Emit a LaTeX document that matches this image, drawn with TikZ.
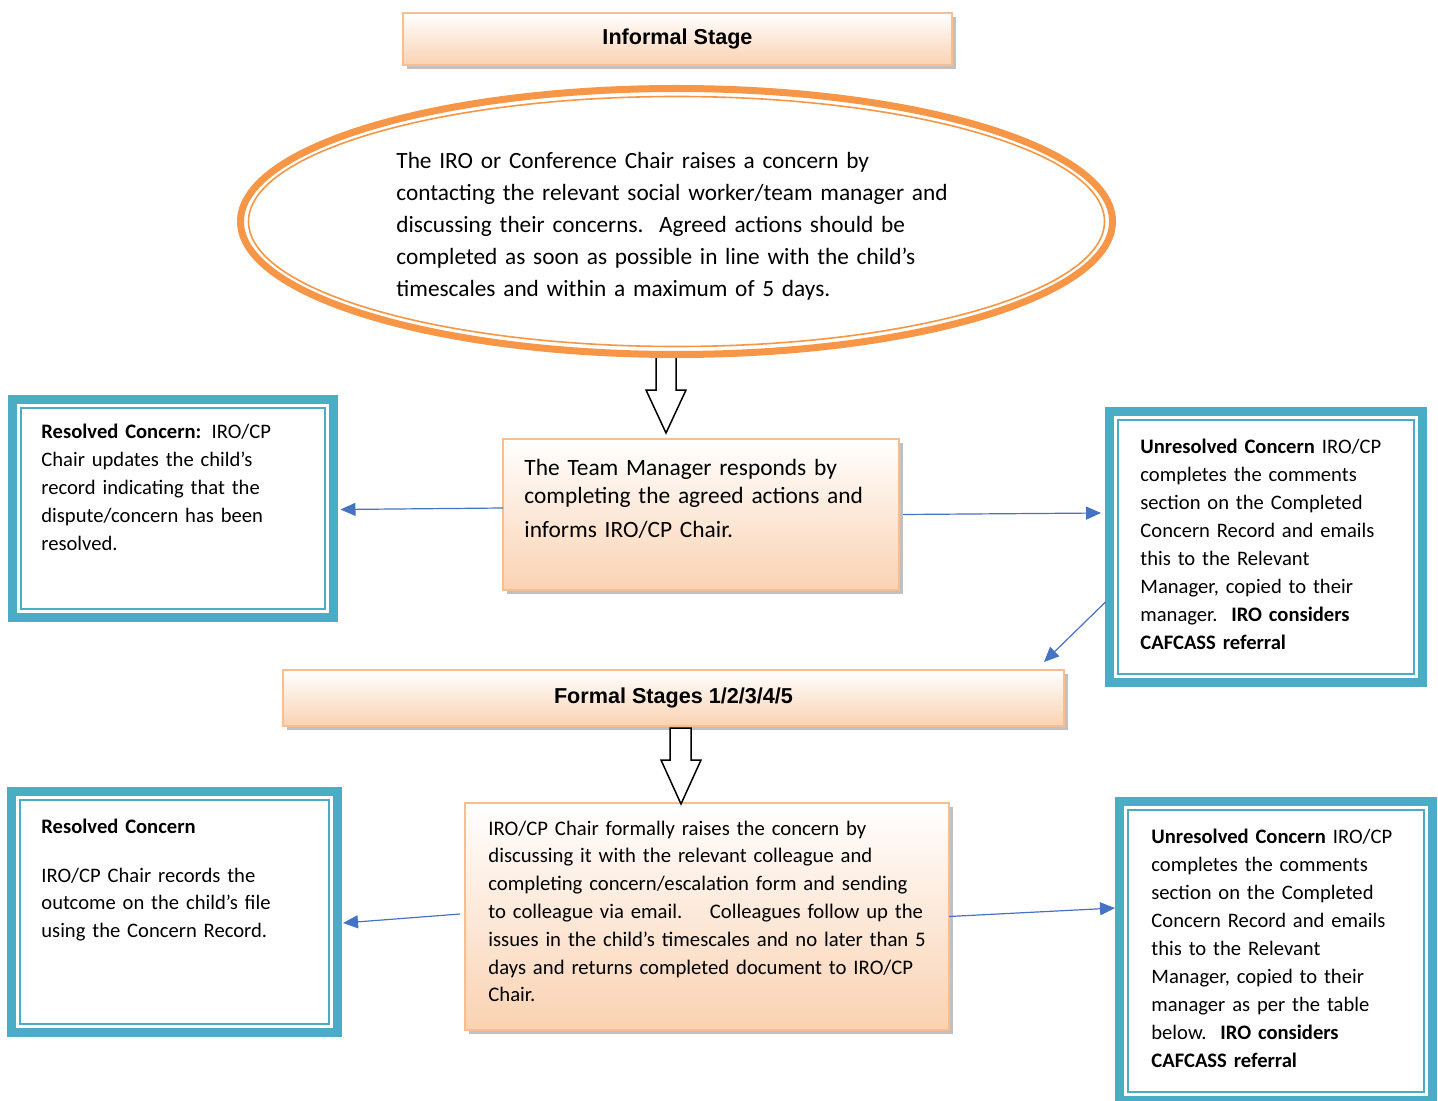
\documentclass[tikz,border=0pt]{standalone}
\usepackage{fontspec}
\setmainfont{Carlito}
\newfontfamily\headfont{Liberation Sans}
\usetikzlibrary{shadows,arrows.meta,calc,shapes.geometric}
\definecolor{orbord}{HTML}{F9BE8F}
\definecolor{peach}{HTML}{FAD2B2}
\definecolor{tealc}{HTML}{4BACC6}
\definecolor{bluec}{HTML}{4472C4}
\definecolor{ellc}{HTML}{F79646}
\begin{document}
\begin{tikzpicture}[x=0.5pt,y=-0.5pt,
  stagebox/.style={draw=orbord, line width=1pt, top color=white, bottom color=peach,
    drop shadow={shadow xshift=2pt,shadow yshift=-2pt,fill=black!45,opacity=0.55},
    inner sep=0pt, outer sep=0pt},
  tealbox/.style={draw=tealc, line width=4.5pt, fill=white, inner sep=0pt, outer sep=0pt},
  innerline/.style={draw=tealc, line width=1pt},
  conn/.style={draw=bluec, line width=0.6pt, -{Triangle[length=7.5pt,width=6.5pt]}},
  blockarrow/.style={draw=black, line width=0.75pt, fill=white, line join=miter},
  txt/.style={inner sep=0pt, align=left, text width=#1},
  headtxt/.style={font=\headfont\bfseries\fontsize{10.8}{13}\selectfont}]
\useasboundingbox (0,0) rectangle (1438,1101);

% block arrow 1 (behind ellipse)
\draw[blockarrow] (656,357) -- (676,357) -- (676,390) -- (686,390) -- (666,433) -- (646,390) -- (656,390) -- cycle;

% Informal stage
\node[stagebox, minimum width=274.5pt, minimum height=26pt, headtxt] (inf) at (677.5,39) {Informal Stage};

% Ellipse
\node[ellipse, draw=ellc, line width=3.5pt, fill=white, minimum width=436pt, minimum height=133pt, inner sep=0pt, outer sep=0pt] (ell) at (676.5,221.5) {};
\draw[draw=ellc, line width=0.8pt] (ell.center) ellipse [x radius=214pt, y radius=62.5pt];
\node[txt=320pt, anchor=base west, font=\fontsize{11.65}{16}\selectfont] (ellt) at (396,169)
 {The IRO or Conference Chair raises a concern by\\
  contacting the relevant social worker/team manager and\\
  discussing their concerns.\ \ Agreed actions should be\\
  completed as soon as possible in line with the child’s\\
  timescales and within a maximum of 5 days.};

% Team manager box
\node[stagebox, minimum width=198pt, minimum height=75.5pt] (tm) at (701,514.5) {};
\node[txt=190pt, anchor=base west, font=\fontsize{11.7}{14}\selectfont] (tmt) at (524,475)
 {The Team Manager responds by\\
  completing the agreed actions and\\[3pt]
  informs IRO/CP Chair.};

% Left resolved box 1
\node[tealbox, minimum width=160.5pt, minimum height=109pt] (lb1) at (173,508.5) {};
\draw[innerline] ($(lb1.north west)+(8.5,8.5)$) rectangle ($(lb1.south east)-(8.5,8.5)$);
\node[txt=150pt, anchor=base west, font=\fontsize{10.3}{14}\selectfont] (lb1t) at (41,438)
 {\textbf{Resolved Concern:} IRO/CP\\
  Chair updates the child’s\\
  record indicating that the\\
  dispute/concern has been\\
  resolved.};

% Right unresolved box 1
\node[tealbox, minimum width=156.5pt, minimum height=135.5pt] (rb1) at (1266,547) {};
\draw[innerline] ($(rb1.north west)+(8.5,8.5)$) rectangle ($(rb1.south east)-(8.5,8.5)$);
\node[txt=140pt, anchor=base west, font=\fontsize{10.3}{14}\selectfont] (rb1t) at (1140,453)
 {\textbf{Unresolved Concern} IRO/CP\\
  completes the comments\\
  section on the Completed\\
  Concern Record and emails\\
  this to the Relevant\\
  Manager, copied to their\\
  manager.\ \ \textbf{IRO considers}\\
  \textbf{CAFCASS referral}};

% Formal stages
\node[stagebox, minimum width=390.5pt, minimum height=28pt, headtxt] (fs) at (673.5,698) {Formal Stages 1/2/3/4/5};

% Formal process box
\node[stagebox, minimum width=242pt, minimum height=113.5pt] (fp) at (707,916.5) {};
\node[txt=235pt, anchor=base west, font=\fontsize{10.35}{13.9}\selectfont] (fpt) at (488,835)
 {IRO/CP Chair formally raises the concern by\\
  discussing it with the relevant colleague and\\
  completing concern/escalation form and sending\\
  to colleague via email.\ \ \ \ Colleagues follow up the\\
  issues in the child’s timescales and no later than 5\\
  days and returns completed document to IRO/CP\\
  Chair.};

% block arrow 2
\draw[blockarrow] (670,728) -- (691,728) -- (691,760) -- (701,760) -- (681,804) -- (661,760) -- (670,760) -- cycle;

% Left resolved box 2
\node[tealbox, minimum width=163pt, minimum height=120.5pt] (lb2) at (174.5,912) {};
\draw[innerline] ($(lb2.north west)+(8.5,8.5)$) rectangle ($(lb2.south east)-(8.5,8.5)$);
\node[txt=150pt, anchor=base west, font=\fontsize{10.3}{13.75}\selectfont] (lb2t) at (41,833)
 {\textbf{Resolved Concern}\\[10.75pt]
  IRO/CP Chair records the\\
  outcome on the child’s file\\
  using the Concern Record.};

% Right unresolved box 2
\node[tealbox, minimum width=156.5pt, minimum height=149.5pt] (rb2) at (1276,951) {};
\draw[innerline] ($(rb2.north west)+(8.5,8.5)$) rectangle ($(rb2.south east)-(8.5,8.5)$);
\node[txt=140pt, anchor=base west, font=\fontsize{10.3}{14}\selectfont] (rb2t) at (1151,843)
 {\textbf{Unresolved Concern} IRO/CP\\
  completes the comments\\
  section on the Completed\\
  Concern Record and emails\\
  this to the Relevant\\
  Manager, copied to their\\
  manager as per the table\\
  below.\ \ \textbf{IRO considers}\\
  \textbf{CAFCASS referral}};

% connectors
\draw[conn] ($(tm.west)+(0,-6.5)$) -- ($(lb1.east)+(7,1)$);
\draw[conn] ($(tm.east)+(4,0)$) -- ($(rb1.west)+(-8.5,-34)$);
\draw[conn] ($(rb1.west)+(-4,55)$) -- ($(fs.north east)+(-20,-8)$);
\draw[conn] ($(fp.west)+(-5,-2.5)$) -- ($(lb2.east)+(5.5,11)$);
\draw[conn] (fp.east) -- ($(rb2.west)+(-4.5,-43)$);
\end{tikzpicture}
\end{document}
